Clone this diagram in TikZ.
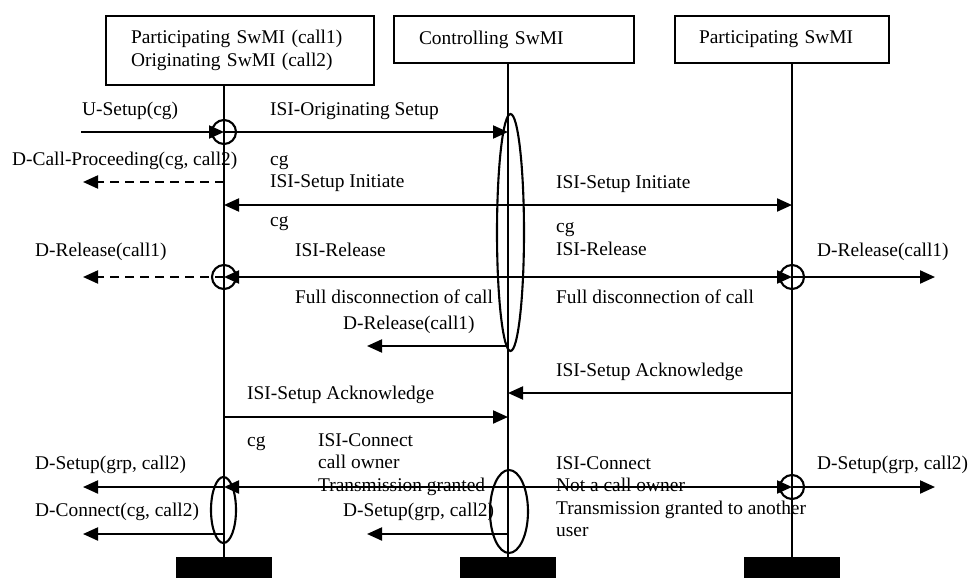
\documentclass[tikz,border=0pt]{standalone}
\usepackage{fontspec}
\setmainfont{Liberation Serif}
\usetikzlibrary{arrows.meta,shapes.geometric}
\begin{document}
\begin{tikzpicture}[x=1pt,y=-1pt,
  every node/.style={font=\fontsize{19.4}{22.5}\selectfont},
  lbl/.style={anchor=base west,inner sep=0},
  partbox/.style={draw,line width=2.1pt,align=left,inner ysep=0,anchor=north west},
  bar/.style={fill=black,draw=none,minimum width=96pt,minimum height=21pt,inner sep=0},
  life/.style={line width=2.1pt},
  ring/.style={draw,circle,line width=2.1pt,minimum size=24pt,inner sep=0},
  oval/.style={draw,ellipse,line width=2.1pt,inner sep=0},
  msg/.style={line width=2.1pt,-{Triangle[length=15pt,width=13pt]}},
  dmsg/.style={msg,dash pattern=on 9pt off 6pt},
  bmsg/.style={line width=2.1pt,{Triangle[length=15pt,width=13pt]}-{Triangle[length=15pt,width=13pt]}}]
\useasboundingbox (0,0) rectangle (970,578);

% participant boxes
\node[partbox,inner xsep=25pt,text width=218pt,minimum height=69pt] (pA) at (105,15)
  {Participating SwMI (call1)\\Originating SwMI (call2)};
\node[partbox,inner xsep=25pt,text width=190pt,minimum height=47pt] (pB) at (393,15)
  {Controlling SwMI};
\node[partbox,inner xsep=24pt,text width=166pt,minimum height=47pt] (pC) at (674,15)
  {Participating SwMI};

% bottom bars
\node[bar] (bA) at (224,567.5) {};
\node[bar] (bB) at (508,567.5) {};
\node[bar] (bC) at (792,567.5) {};

% lifelines
\draw[life] (bA.north |- pA.south) -- (bA.north);
\draw[life] (bB.north |- pB.south) -- (bB.north);
\draw[life] (bC.north |- pC.south) -- (bC.north);

% circles and ellipses
\node[ring] (c1) at (224,132) {};
\node[ring] (c2) at (224,277) {};
\node[ring] (c3) at (792,277) {};
\node[ring] (c4) at (792,487) {};
\node[oval,minimum width=27pt,minimum height=237pt] (e1) at (510.5,232.5) {};
\node[oval,minimum width=38pt,minimum height=83pt] (e2) at (509,511.5) {};
\node[oval,minimum width=25pt,minimum height=66pt] (e3) at (223.5,510) {};

% coordinates
\coordinate (u0) at (81,132);
\coordinate (uA) at (224,132);
\coordinate (uB) at (508,132);
\coordinate (p0) at (83,182);
\coordinate (pA1) at (224,182);
\coordinate (iA) at (224,205);
\coordinate (iC) at (792,205);
\coordinate (r0) at (83,277);
\coordinate (rA) at (224,277);
\coordinate (rC) at (792,277);
\coordinate (rD) at (935,277);
\coordinate (mB) at (508,346);
\coordinate (m0) at (367,346);
\coordinate (kC) at (792,393);
\coordinate (kB) at (508,393);
\coordinate (aA) at (224,417);
\coordinate (aB) at (508,417);
\coordinate (s0) at (83,487);
\coordinate (sA) at (224,487);
\coordinate (sB) at (508,487);
\coordinate (sC) at (792,487);
\coordinate (sD) at (935,487);
\coordinate (d0) at (83,534);
\coordinate (dA) at (224,534);
\coordinate (dB) at (508,534);
\coordinate (dM) at (367,534);

% messages
\draw[msg] (u0) -- (uA);
\draw[msg] (uA) -- (uB);
\draw[dmsg] (pA1) -- (p0);
\draw[bmsg] (iA) -- (iC);
\draw[bmsg] (rA) -- (rC);
\draw[dmsg] (rA) -- (r0);
\draw[msg] (rC) -- (rD);
\draw[msg] (mB) -- (m0);
\draw[msg] (kC) -- (kB);
\draw[msg] (aA) -- (aB);
\draw[msg] (sB) -- (sA);
\draw[msg] (sA) -- (s0);
\draw[msg] (sB) -- (sC);
\draw[msg] (sC) -- (sD);
\draw[msg] (dA) -- (d0);
\draw[msg] (dB) -- (dM);

% labels
\node[lbl] (t1) at (82,115) {U-Setup(cg)};
\node[lbl] (t2) at (270,115) {ISI-Originating Setup};
\node[lbl] (t3) at (12,165) {D-Call-Proceeding(cg, call2)};
\node[lbl] (t4) at (270,165) {cg};
\node[lbl] (t5) at (270,187.5) {ISI-Setup Initiate};
\node[lbl] (t6) at (556,188) {ISI-Setup Initiate};
\node[lbl] (t7) at (270,226) {cg};
\node[lbl] (t8) at (556,232) {cg};
\node[lbl] (t9) at (295,256) {ISI-Release};
\node[lbl] (t10) at (556,255) {ISI-Release};
\node[lbl] (t11) at (35,256) {D-Release(call1)};
\node[lbl] (t12) at (817,256) {D-Release(call1)};
\node[lbl] (t13) at (295,303) {Full disconnection of call};
\node[lbl] (t14) at (556,303) {Full disconnection of call};
\node[lbl] (t15) at (343,329) {D-Release(call1)};
\node[lbl] (t16) at (556,376) {ISI-Setup Acknowledge};
\node[lbl] (t17) at (247,399) {ISI-Setup Acknowledge};
\node[lbl] (t18) at (247,446) {cg};
\node[lbl] (t19) at (318,446) {ISI-Connect};
\node[lbl] (t20) at (318,468.5) {call owner};
\node[lbl] (t21) at (318,491) {Transmission granted};
\node[lbl] (t22) at (35,469) {D-Setup(grp, call2)};
\node[lbl] (t23) at (817,469) {D-Setup(grp, call2)};
\node[lbl] (t24) at (556,469) {ISI-Connect};
\node[lbl] (t25) at (556,491.5) {Not a call owner};
\node[lbl] (t26) at (556,514) {Transmission granted to another};
\node[lbl] (t27) at (556,536.5) {user};
\node[lbl] (t28) at (35,516) {D-Connect(cg, call2)};
\node[lbl] (t29) at (343,516) {D-Setup(grp, call2)};
\end{tikzpicture}
\end{document}
